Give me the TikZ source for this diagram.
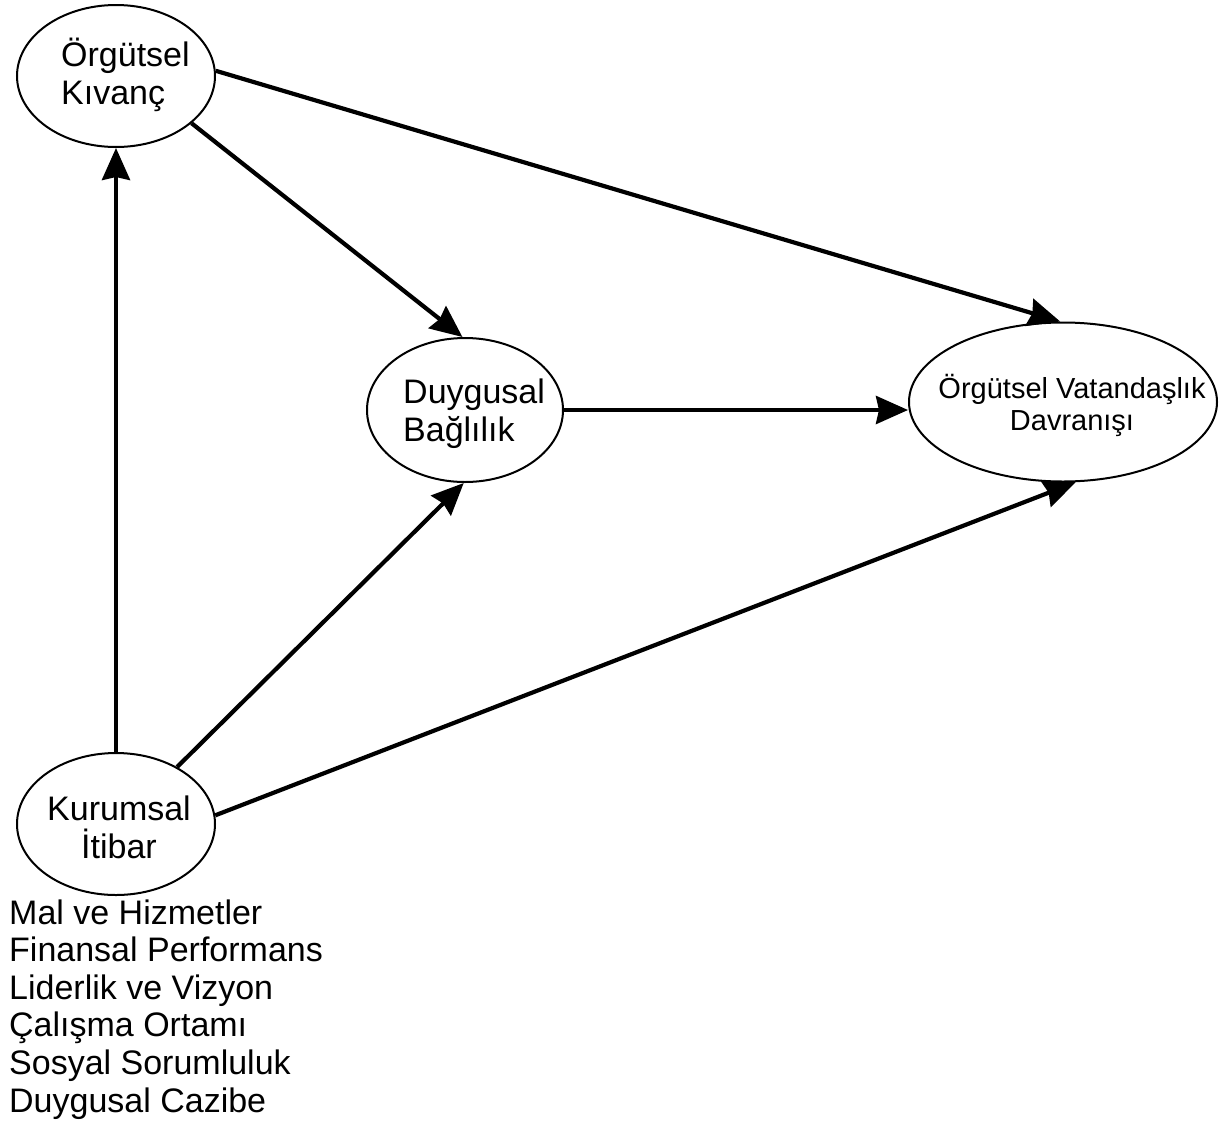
\documentclass[tikz,border=0pt]{standalone}
\usepackage{fontspec}
\setmainfont{Liberation Sans}
\usetikzlibrary{arrows.meta,shapes.geometric}
\begin{document}
\begin{tikzpicture}[x=1pt,y=-1pt,
  construct/.style={draw,ellipse,line width=2pt,inner sep=0pt},
  lbl/.style={inner sep=0pt,font=\fontsize{34}{38}\selectfont},
  smalllbl/.style={inner sep=0pt,font=\fontsize{29}{32}\selectfont},
  path/.style={line width=4.2pt,-{Stealth[length=32pt,width=28pt,inset=3pt]}}]
\useasboundingbox[fill=white] (0,0) rectangle (1231,1122);

% latent constructs
\node[construct,minimum width=198pt,minimum height=142pt] (ok)  at (116,76)   {};
\node[construct,minimum width=196pt,minimum height=144pt] (db)  at (465,410)  {};
\node[construct,minimum width=308pt,minimum height=159pt] (ovd) at (1063,402) {};
\node[construct,minimum width=198pt,minimum height=142pt] (ki)  at (116,824)  {};

% construct names (base anchor sits on the last line)
\node[lbl,anchor=base west,align=left] (okt) at (61,104) {Örgütsel\\Kıvanç};
\node[lbl,anchor=base west,align=left] (dbt) at (403,441) {Duygusal\\Bağlılık};
\node[lbl,anchor=base,align=center] (kit) at (119,858) {Kurumsal\\İtibar};
\node[smalllbl,anchor=base,align=center] (ovdt) at (1072,430) {Örgütsel Vatandaşlık\\Davranışı};

% dimensions of corporate reputation
\node[inner sep=0pt,anchor=base west,align=left,font=\fontsize{34}{37.6}\selectfont] (dims) at (9,1112)
  {Mal ve Hizmetler\\Finansal Performans\\Liderlik ve Vizyon\\Çalışma Ortamı\\Sosyal Sorumluluk\\Duygusal Cazibe};

% structural paths
\draw[path] (ki.north) -- (ok.south);
\draw[path] (ok.-32) -- (db.92);
\draw[path] (ok.3) -- (ovd.92);
\draw[path] (db.east) -- (db.east -| ovd.west);
\draw[path] (ki.43) -- (db.-91);
\draw[path] (ki.5) -- (ovd.-81);
\end{tikzpicture}
\end{document}
